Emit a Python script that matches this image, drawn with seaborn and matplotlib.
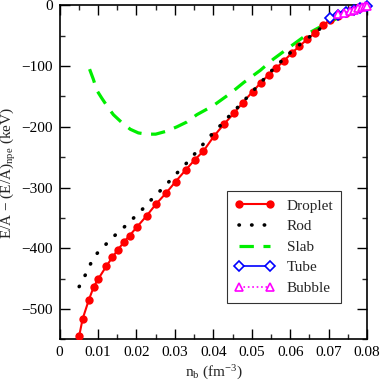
import matplotlib
matplotlib.use("Agg")
import matplotlib.pyplot as plt
import seaborn as sns
import numpy as np
import pandas as pd
from matplotlib.ticker import MultipleLocator

# ---- data ----
droplet_nb = [0.0051, 0.0060, 0.0076, 0.0089, 0.0101, 0.0122, 0.0137, 0.0152, 0.0167,
              0.0182, 0.0201, 0.0227, 0.0251, 0.0277, 0.0302, 0.0328, 0.0352, 0.0374,
              0.0402, 0.0427, 0.0453, 0.0477, 0.0502, 0.0524, 0.0544, 0.0564, 0.0584,
              0.0605, 0.0624, 0.0644, 0.0665, 0.0685, 0.0704, 0.0723, 0.0745, 0.0770, 0.0800]
droplet_e = [-544, -516, -485, -463, -450, -429, -415, -402, -390,
             -379, -365, -346, -327, -309, -290, -271, -254, -240,
             -215, -196, -178, -160, -142, -127, -114, -103, -91,
             -78, -67, -56, -45, -33, -24, -18, -12, -6, -1]

rod_nb = [0.0051, 0.0066, 0.0081, 0.0098, 0.0121, 0.0145, 0.0168, 0.0191, 0.0215, 0.0237,
          0.0259, 0.0282, 0.0304, 0.0327, 0.0348, 0.0370, 0.0392, 0.0415, 0.0437, 0.0460,
          0.0481, 0.0503, 0.0525, 0.0546, 0.0570, 0.0600, 0.0620, 0.0644, 0.0670, 0.0700]
rod_e = [-463, -445, -425, -408, -393, -378, -365, -351, -336, -321,
         -307, -292, -277, -262, -247, -231, -215, -200, -185, -170,
         -156, -141, -126, -111, -96, -78, -67, -55, -42, -28]

slab_nb = [0.0078, 0.0088, 0.0097, 0.0110, 0.0127, 0.0140, 0.0162, 0.0184, 0.0205, 0.0227,
           0.0250, 0.0279, 0.0305, 0.0331, 0.0357, 0.0400, 0.0444, 0.0479, 0.0522, 0.0557,
           0.0600, 0.0650, 0.0700, 0.0720]
slab_e = [-105, -122, -140, -153, -169, -180, -193, -204, -210, -212,
          -212, -207, -200, -192, -180, -165, -145, -127, -107, -88,
          -68, -45, -28, -22]

tube_nb = [0.0704, 0.0725, 0.0745, 0.0765, 0.0782, 0.0800]
tube_e = [-21, -16, -11, -7, -4, -0.5]

bubble_nb = [0.0723, 0.0741, 0.0756, 0.0767, 0.0776, 0.0786, 0.0794, 0.0800]
bubble_e = [-15, -12, -9, -7, -5, -3, -1.5, -0.5]

# ---- styling ----
sns.set_theme(style="ticks")
plt.rcParams['font.family'] = ['Liberation Serif', 'DejaVu Serif']
plt.rcParams['mathtext.fontset'] = 'custom'
plt.rcParams['mathtext.rm'] = 'Liberation Serif'
plt.rcParams['mathtext.it'] = 'Liberation Serif:italic'
plt.rcParams['font.size'] = 10

fig = plt.figure(figsize=(3.82, 3.84), dpi=100)
ax = fig.add_axes([0.156, 0.116, 0.805, 0.870])

df_d = pd.DataFrame({'nb': droplet_nb, 'e': droplet_e})
df_r = pd.DataFrame({'nb': rod_nb, 'e': rod_e})
df_s = pd.DataFrame({'nb': slab_nb, 'e': slab_e})
df_t = pd.DataFrame({'nb': tube_nb, 'e': tube_e})
df_b = pd.DataFrame({'nb': bubble_nb, 'e': bubble_e})

sns.lineplot(data=df_s, x='nb', y='e', ax=ax, sort=False, color='#00ee00', lw=2.3,
             linestyle=(0, (4.5, 3)), label='Slab', zorder=2)
sns.lineplot(data=df_d, x='nb', y='e', ax=ax, sort=False, color='red', lw=1.5,
             marker='o', markersize=6, markeredgewidth=0, label='Droplet', zorder=3)
sns.lineplot(data=df_r, x='nb', y='e', ax=ax, sort=False, color='black', lw=2.6,
             linestyle=(0, (0.1, 3.4)), dash_capstyle='round', label='Rod', zorder=4)
sns.lineplot(data=df_t, x='nb', y='e', ax=ax, sort=False, color='blue', lw=1.2,
             marker='D', markersize=5, markerfacecolor='white', markeredgecolor='blue',
             markeredgewidth=1.2, label='Tube', zorder=5, clip_on=False)
sns.lineplot(data=df_b, x='nb', y='e', ax=ax, sort=False, color='magenta', lw=1.2,
             linestyle=':', marker='^', markersize=6, markerfacecolor='white',
             markeredgecolor='magenta', markeredgewidth=1.2, label='Bubble', zorder=6,
             clip_on=False)

ax.set_xlim(0, 0.08)
ax.set_ylim(-550, 0)
ax.xaxis.set_major_locator(MultipleLocator(0.01))
ax.xaxis.set_minor_locator(MultipleLocator(0.005))
ax.yaxis.set_major_locator(MultipleLocator(100))
ax.yaxis.set_minor_locator(MultipleLocator(50))
ax.set_xticks(np.arange(0, 0.081, 0.01))
ax.set_xticklabels(['0', '0.01', '0.02', '0.03', '0.04', '0.05', '0.06', '0.07', '0.08'])
ax.set_yticks([-500, -400, -300, -200, -100, 0])
ax.set_yticklabels(['\u2212500', '\u2212400', '\u2212300', '\u2212200', '\u2212100', '0'])
ax.tick_params(which='major', direction='in', length=7, width=1.0, top=True, right=True,
               labelsize=11, pad=5, colors='black')
ax.tick_params(which='minor', direction='in', length=3.5, width=1.0, top=True, right=True)
for sp in ax.spines.values():
    sp.set_linewidth(1.2)
    sp.set_color('black')

ax.set_xlabel(r'n$_{\rm b}$ (fm$^{-3}$)', fontsize=11, labelpad=3)
ax.set_ylabel(r'E/A $-$ (E/A)$_{\rm npe}$ (keV)', fontsize=11, labelpad=2)

handles, labels = ax.get_legend_handles_labels()
order = ['Droplet', 'Rod', 'Slab', 'Tube', 'Bubble']
hmap = dict(zip(labels, handles))
leg = ax.legend([hmap[k] for k in order], order, loc='lower right',
                bbox_to_anchor=(0.915, 0.11), numpoints=2, handlelength=2.6,
                fontsize=11, frameon=True, fancybox=False, edgecolor='black',
                borderpad=0.5, labelspacing=0.45, handletextpad=0.8, borderaxespad=0)
leg.get_frame().set_linewidth(0.8)

fig.savefig('out.png', dpi=100)
